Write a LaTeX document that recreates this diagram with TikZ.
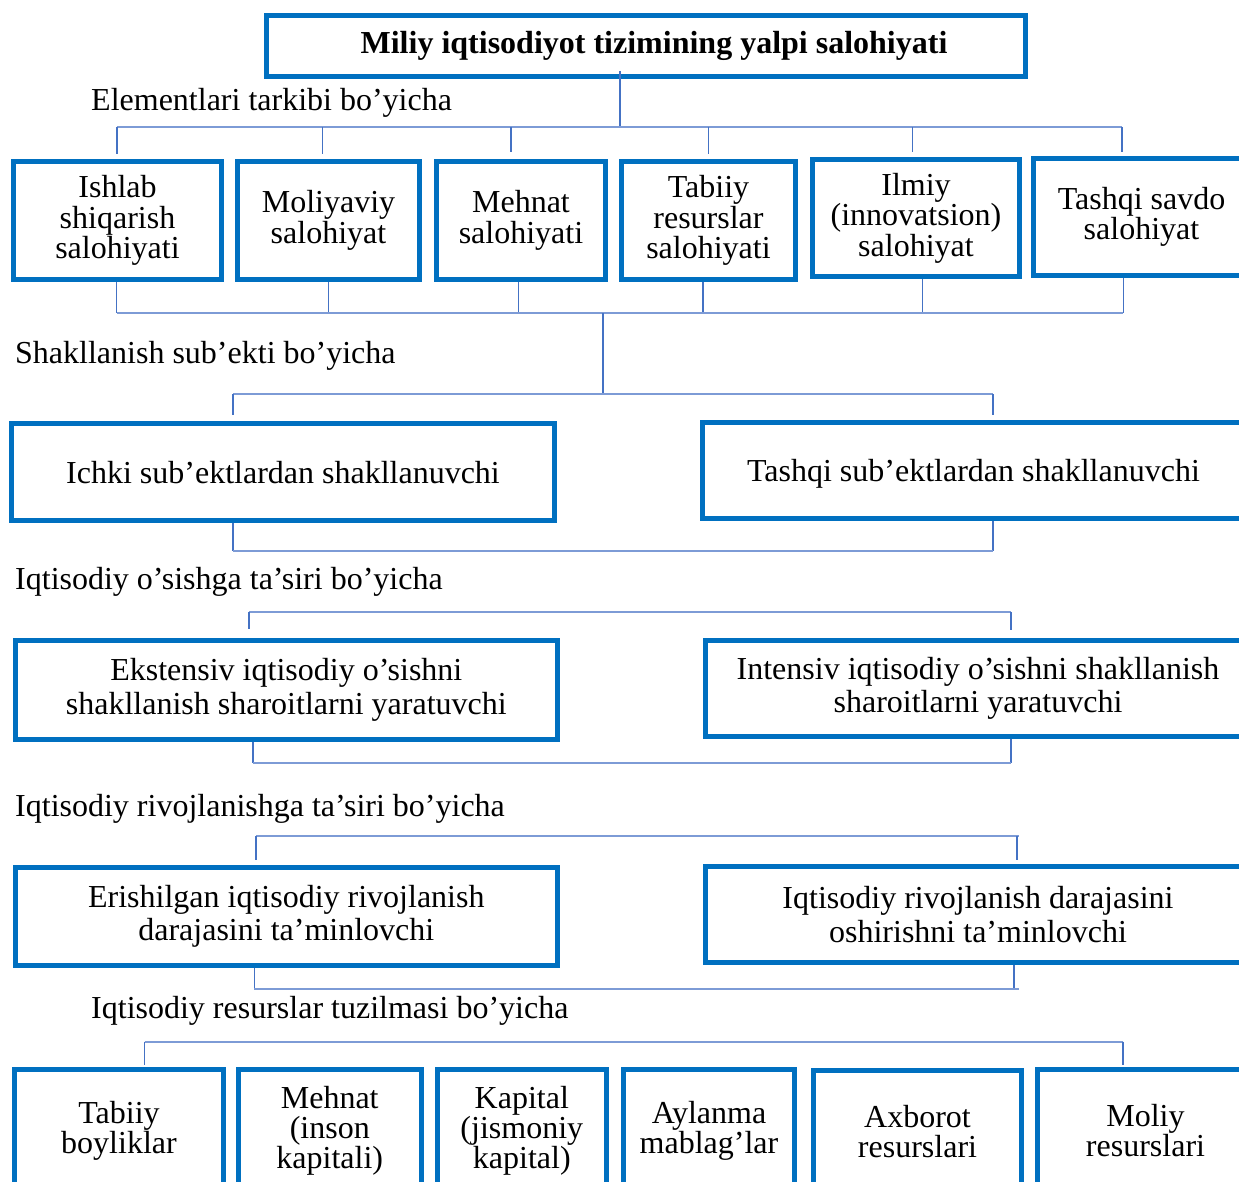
\documentclass[tikz,border=0pt]{standalone}
\usepackage{fontspec}
\setmainfont{Liberation Serif}
\definecolor{boxblue}{RGB}{0,112,192}
\definecolor{vblue}{RGB}{68,114,196}
\definecolor{hblue}{RGB}{125,155,214}
\tikzset{
  box/.style={draw=boxblue, line width=5pt, inner sep=0pt, align=center,
    font=\fontsize{32}{30.5}\selectfont},
  widebox/.style={box, font=\fontsize{32}{33.5}\selectfont},
  vline/.style={draw=vblue, line width=1.4pt},
  hline/.style={draw=hblue, line width=2pt},
  lbl/.style={anchor=base west, inner sep=0pt, font=\fontsize{32}{32}\selectfont}
}
\begin{document}
\begin{tikzpicture}[x=1pt,y=-1pt]
\useasboundingbox (0,0) rectangle (1239,1182);
\clip (0,0) rectangle (1239,1182);
\fill[white] (0,0) rectangle (1239,1182);

% title
\node[box, font=\bfseries\fontsize{32}{32}\selectfont, minimum width=759.5pt, minimum height=61pt] (top) at (646,46) {\hspace*{16pt}Miliy iqtisodiyot tizimining yalpi salohiyati};

% labels
\node[lbl] (l1) at (91,111) {Elementlari tarkibi bo’yicha};
\node[lbl] (l2) at (15,363) {Shakllanish sub’ekti bo’yicha};
\node[lbl] (l3) at (15,589) {Iqtisodiy o’sishga ta’siri bo’yicha};
\node[lbl] (l4) at (15,816.5) {Iqtisodiy rivojlanishga ta’siri bo’yicha};
\node[lbl] (l5) at (91,1018) {Iqtisodiy resurslar tuzilmasi bo’yicha};

% row 1
\node[box, minimum width=208pt, minimum height=118pt] (e1) at (117.5,220.5) {Ishlab\\shiqarish\\salohiyati};
\node[box, minimum width=182pt, minimum height=118pt] (e2) at (328.5,220.5) {Moliyaviy\\salohiyat};
\node[box, minimum width=169pt, minimum height=118pt] (e3) at (521,220.5) {Mehnat\\salohiyati};
\node[box, minimum width=174pt, minimum height=118pt] (e4) at (708.5,220.5) {Tabiiy\\resurslar\\salohiyati};
\node[box, minimum width=207pt, minimum height=117pt] (e5) at (916,218) {Ilmiy\\(innovatsion)\\salohiyat};
\node[box, minimum width=216pt, minimum height=117pt] (e6) at (1141.5,217) {Tashqi savdo\\salohiyat};

% row 2
\node[box, text depth=0pt, minimum width=543pt, minimum height=97.6pt] (s1) at (283,472) {Ichki sub’ektlardan shakllanuvchi};
\node[box, text depth=0pt, minimum width=542pt, minimum height=96pt] (s2) at (973.5,470.5) {Tashqi sub’ektlardan shakllanuvchi};

% row 3
\node[widebox, minimum width=542.4pt, minimum height=98.4pt] (g1) at (286.3,690) {Ekstensiv iqtisodiy o’sishni\\shakllanish sharoitlarni yaratuvchi};
\node[widebox, minimum width=545pt, minimum height=96pt] (g2) at (978,688.5) {Intensiv iqtisodiy o’sishni shakllanish\\sharoitlarni yaratuvchi};

% row 4
\node[widebox, minimum width=542.4pt, minimum height=97.7pt] (r1) at (286.3,916.3) {Erishilgan iqtisodiy rivojlanish\\darajasini ta’minlovchi};
\node[widebox, minimum width=545pt, minimum height=95.7pt] (r2) at (978,914.6) {Iqtisodiy rivojlanish darajasini\\oshirishni ta’minlovchi};

% row 5
\tikzset{bbox/.style={box, font=\fontsize{32}{30}\selectfont, minimum height=123pt}}
\node[bbox, minimum width=209pt] (p1) at (119,1131) {Tabiiy\\boyliklar};
\node[bbox, minimum width=183.5pt] (p2) at (329.75,1131) {Mehnat\\(inson\\kapitali)};
\node[bbox, minimum width=169.4pt] (p3) at (521.8,1131) {Kapital\\(jismoniy\\kapital)};
\node[bbox, minimum width=171pt] (p4) at (709,1131) {Aylanma\\mablag’lar};
\node[bbox, minimum width=208pt] (p5) at (917.5,1132) {Axborot\\resurslari};
\node[bbox, minimum width=216pt] (p6) at (1145.5,1131) {Moliy\\resurslari};

% --- connectors: title to row 1
\coordinate (j0) at (620,127);
\draw[vline] ([yshift=8pt]j0 |- top.south) -- (j0);
\coordinate (a1) at (117,127);
\coordinate (a2) at (322.6,127);
\coordinate (a3) at (511,127);
\coordinate (a4) at (708.4,127);
\coordinate (a5) at (912.5,127);
\coordinate (a6) at (1122,127);
\draw[hline] (a1) -- (a6);
\draw[vline, shorten >=5pt] (a1) -- (a1 |- e1.north);
\draw[vline, shorten >=5pt] (a2) -- (a2 |- e2.north);
\draw[vline, shorten >=7pt] (a3) -- (a3 |- e3.north);
\draw[vline, shorten >=5pt] (a4) -- (a4 |- e4.north);
\draw[vline, shorten >=5pt] (a5) -- (a5 |- e5.north);
\draw[vline, shorten >=4pt] (a6) -- (a6 |- e6.north);

% row 1 bottom bus
\coordinate (b1) at (116.6,313);
\coordinate (b2) at (328.6,313);
\coordinate (b3) at (518.4,313);
\coordinate (b4) at (703,313);
\coordinate (b5) at (922.7,313);
\coordinate (b6) at (1123.2,313);
\draw[vline] (b1 |- e1.south) -- (b1);
\draw[vline] (b2 |- e2.south) -- (b2);
\draw[vline] (b3 |- e3.south) -- (b3);
\draw[vline] (b4 |- e4.south) -- (b4);
\draw[vline] (b5 |- e5.south) -- (b5);
\draw[vline] (b6 |- e6.south) -- (b6);
\draw[hline] (b1) -- (b6);

% link to row 2
\coordinate (c0) at (603,313);
\coordinate (c1) at (603,394);
\draw[vline] (c0) -- (c1);
\coordinate (s1t) at (233,394);
\coordinate (s2t) at (993,394);
\draw[hline] (s1t) -- (s2t);
\draw[vline, shorten >=6pt] (s1t) -- (s1t |- s1.north);
\draw[vline, shorten >=5.5pt] (s2t) -- (s2t |- s2.north);
\coordinate (s1b) at (233,551);
\coordinate (s2b) at (993,551);
\draw[vline] (s1b |- s1.south) -- (s1b);
\draw[vline] (s2b |- s2.south) -- (s2b);
\draw[hline] (s1b) -- (s2b);

% row 3
\coordinate (g1t) at (249,612);
\coordinate (g2t) at (1011,612);
\draw[hline] (g1t) -- (g2t);
\draw[vline, shorten >=9pt] (g1t) -- (g1t |- g1.north);
\draw[vline, shorten >=8.5pt] (g2t) -- (g2t |- g2.north);
\coordinate (g1b) at (253,763);
\coordinate (g2b) at (1011,763);
\draw[vline] (g1b |- g1.south) -- (g1b);
\draw[vline] (g2b |- g2.south) -- (g2b);
\draw[hline] (g1b) -- (g2b);

% row 4
\coordinate (r1t) at (256,836);
\coordinate (r2t) at (1017,836);
\coordinate (r2e) at (1019,836);
\draw[hline] (r1t) -- (r2e);
\draw[vline, shorten >=4.5pt] (r1t) -- (r1t |- r1.north);
\draw[vline, shorten >=4pt] (r2t) -- (r2t |- r2.north);
\coordinate (r1b) at (254.4,989);
\coordinate (r2b) at (1014,989);
\coordinate (r2f) at (1019,989);
\draw[vline] (r1b |- r1.south) -- (r1b);
\draw[vline] (r2b |- r2.south) -- (r2b);
\draw[hline] (r1b) -- (r2f);

% row 5
\coordinate (p1t) at (144.6,1041.5);
\coordinate (p6t) at (1123,1041.5);
\draw[hline] (p1t) -- (p6t);
\draw[vline, shorten >=2.5pt] (p1t) -- (p1t |- p1.north);
\draw[vline, shorten >=2.5pt] (p6t) -- (p6t |- p6.north);
\end{tikzpicture}
\end{document}
